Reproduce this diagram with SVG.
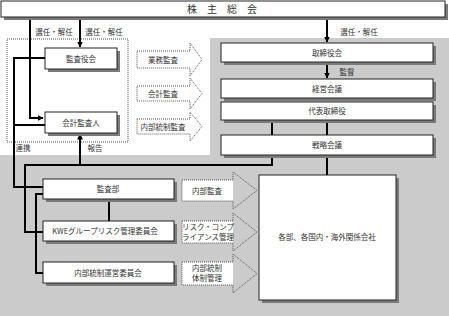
<svg xmlns="http://www.w3.org/2000/svg" width="449" height="316" viewBox="0 0 449 316">
<style>
text{font-family:"Noto Sans CJK JP","Noto Sans CJK SC",sans-serif;font-size:7.5px;fill:#333;text-anchor:middle}
.box{fill:#fff;stroke:#222;stroke-width:1}
.sh{fill:#7a7a7a}
.ln{fill:none;stroke:#000;stroke-width:2}
.dot{fill:none;stroke:#555;stroke-width:1;stroke-dasharray:1 1}
.bw{fill:#fff}
</style>
<defs>
<marker id="ah" viewBox="0 0 6 6" refX="5.5" refY="3" markerWidth="6" markerHeight="6" markerUnits="userSpaceOnUse" orient="auto">
<path d="M0,0 L6,3 L0,6 z" fill="#000"/>
</marker>
</defs>
<rect x="0" y="0" width="449" height="316" fill="#fff"/>
<rect x="210" y="38" width="239" height="278" fill="#cbcbcb"/>
<rect x="0" y="155" width="449" height="161" fill="#cbcbcb"/>
<rect class="dot" x="7" y="39" width="121" height="103"/>

<g id="connectors">
<path class="ln" d="M30 17 V118 H43" marker-end="url(#ah)"/>
<path class="ln" d="M80 17 V47" marker-end="url(#ah)"/>
<path class="ln" d="M327 17 V42" marker-end="url(#ah)"/>
<path class="ln" d="M327 62 V78" marker-end="url(#ah)"/>
<path class="ln" d="M272 120 V135 M327 120 V135"/>
<path class="ln" d="M45 58 H14 V187 H43 M14 125 H45"/>
<path class="ln" d="M80 165 V134" marker-end="url(#ah)"/>
<path class="ln" d="M43 232 H25 V165 H272 V155"/>
<path class="ln" d="M327 155 V175"/>
<path class="ln" d="M43 194 H36 V273 H43"/>
<path class="ln" d="M109 199 V221"/>
</g>
<text x="54" y="35">選任・解任</text>
<text x="104" y="35">選任・解任</text>
<text x="359" y="35">選任・解任</text>
<text x="347" y="75">監督</text>
<text x="23" y="151">連携</text>
<text x="95" y="151">報告</text>

<g id="n-kabunushi"><rect class="sh" x="4" y="4" width="444" height="16"/><rect class="box" x="1" y="1" width="444" height="16"/><text x="187" y="12.5" style="font-size:10px;letter-spacing:10px;text-anchor:start">株主総会</text></g>
<g id="n-kansayakukai"><rect class="sh" x="48" y="51" width="72" height="21"/><rect class="box" x="45" y="48" width="72" height="21"/><text x="81" y="61.5">監査役会</text></g>
<g id="n-kaikeikansanin"><rect class="sh" x="48" y="115" width="72" height="21"/><rect class="box" x="45" y="112" width="72" height="21"/><text x="81" y="125.5">会計監査人</text></g>
<g id="n-torishimariyakukai"><rect class="sh" x="224" y="46" width="212" height="19"/><rect class="box" x="221" y="43" width="212" height="19"/><text x="327" y="55.5">取締役会</text></g>
<g id="n-keieikaigi"><rect class="sh" x="224" y="82" width="212" height="19"/><rect class="box" x="221" y="79" width="212" height="19"/><text x="327" y="91.5">経営会議</text></g>
<g id="n-daihyo"><rect class="sh" x="224" y="105" width="212" height="18"/><rect class="box" x="221" y="102" width="212" height="18"/><text x="327" y="114">代表取締役</text></g>
<g id="n-senryaku"><rect class="sh" x="224" y="138" width="212" height="20"/><rect class="box" x="221" y="135" width="212" height="20"/><text x="327" y="148">戦略会議</text></g>
<g id="n-kansabu"><rect class="sh" x="46" y="182" width="131" height="20"/><rect class="box" x="43" y="179" width="131" height="20"/><text x="108" y="192">監査部</text></g>
<g id="n-kwe"><rect class="sh" x="46" y="224" width="131" height="20"/><rect class="box" x="43" y="221" width="131" height="20"/><text x="105" y="234">KWEグループリスク管理委員会</text></g>
<g id="n-naibu"><rect class="sh" x="46" y="265" width="131" height="21"/><rect class="box" x="43" y="262" width="131" height="21"/><text x="108" y="275.5">内部統制運営委員会</text></g>
<g id="n-kakubu"><rect class="sh" x="262" y="178" width="137" height="125"/><rect class="box" x="259" y="175" width="137" height="125"/><text x="327" y="240">各部、各国内・海外関係会社</text></g>

<g id="a-gyomu"><polygon class="dot" points="137,51 190,51 190,43 202,59.5 190,76 190,68 137,68"/><text x="163" y="62.5">業務監査</text></g>
<g id="a-kaikei"><polygon class="dot" points="137,86 190,86 190,78 202,93.5 190,109 190,101 137,101"/><text x="163" y="96.5">会計監査</text></g>
<g id="a-naibutosei"><polygon class="dot" points="137,119 190,119 190,112 202,126.5 190,141 190,134 137,134"/><text x="163" y="129.5">内部統制監査</text></g>
<g id="a-naibukansa"><rect class="bw" x="182" y="180" width="51" height="21"/><polygon class="dot" points="182,180 233,180 233,172 257,190.5 233,209 233,201 182,201"/><text x="207" y="193.5">内部監査</text></g>
<g id="a-risk"><rect class="bw" x="182" y="221" width="51" height="22"/><polygon class="dot" points="182,221 233,221 233,213 257,232 233,251 233,243 182,243"/><text x="208" y="230">リスク・コンプ</text><text x="208" y="240">ライアンス管理</text></g>
<g id="a-taisei"><rect class="bw" x="182" y="262" width="51" height="23"/><polygon class="dot" points="182,262 233,262 233,254 257,273.5 233,293 233,285 182,285"/><text x="207" y="271">内部統制</text><text x="207" y="281">体制管理</text></g>
</svg>
